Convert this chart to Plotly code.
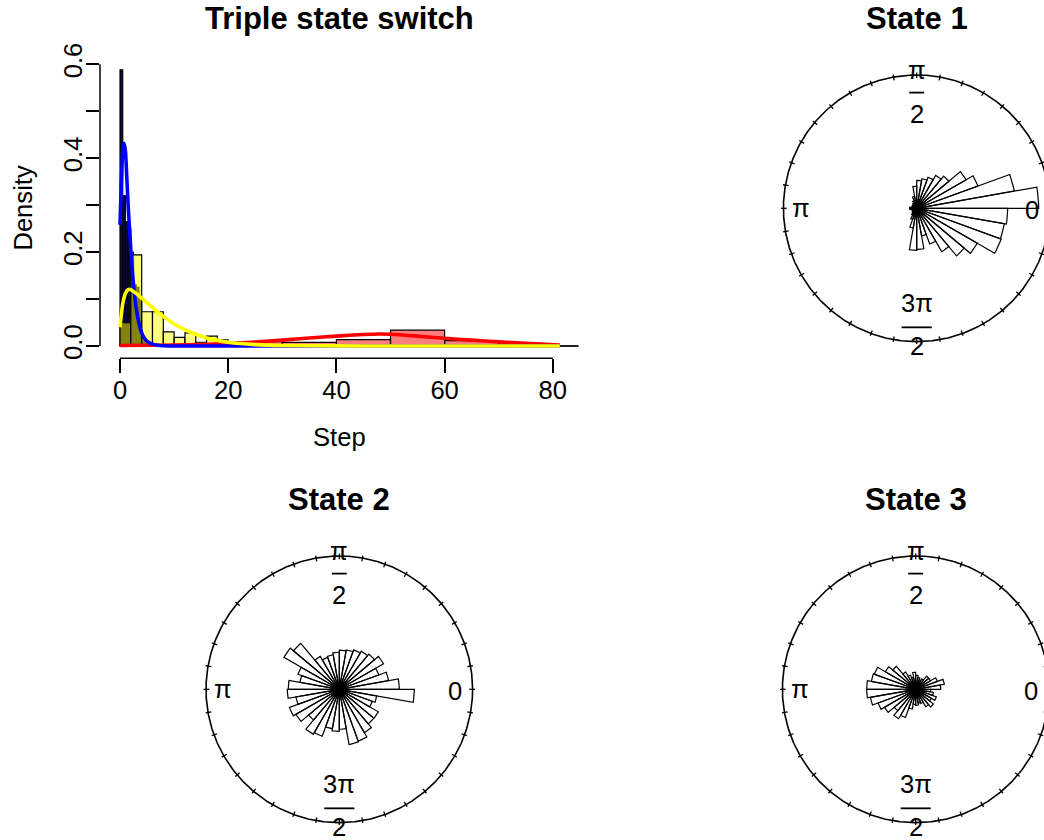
import numpy as np
import plotly.graph_objects as go

W, H = 1044, 840
FONT = "Liberation Sans, Arial, Helvetica, sans-serif"
BASE = 25.6
TITLE = 31

# ---------------- data ----------------
step_ticks = [0, 20, 40, 60, 80]
density_ticks = [0.0, 0.1, 0.2, 0.3, 0.4, 0.5, 0.6]
density_ticktext = ["0.0", "", "0.2", "", "0.4", "", "0.6"]

# histogram (dark, narrow bins)
hist_dark_left = [0.0, 0.5, 1.0, 1.5, 2.0, 2.5, 3.0, 3.5, 4.0, 4.5]
hist_dark_width = 0.5
hist_dark_density = [0.588, 0.32, 0.265, 0.25, 0.2, 0.13, 0.125, 0.1, 0.02, 0.01]

# histogram (yellow)
hist_yellow_left = [0, 2, 4, 6, 8, 10, 12, 14, 16, 18, 20, 22]
hist_yellow_width = 2
hist_yellow_density = [0.05, 0.194, 0.073, 0.073, 0.03, 0.0185, 0.028, 0.008,
                       0.021, 0.013, 0.004, 0.002]

# histogram (red)
hist_red_left = [20, 30, 40, 50, 60, 70, 80]
hist_red_width = 10
hist_red_density = [0.009, 0.0078, 0.0135, 0.034, 0.0113, 0.004, 0.0]

# fitted densities
curve_blue_x = [0, 0.25, 0.5, 0.75, 1.0, 1.25, 1.5, 1.75, 2.0, 2.5, 3.0, 3.5, 4.0,
                4.5, 5.0, 6.0, 7.0, 8.0, 10, 15, 20, 30, 40, 50, 60, 70, 81.3]
curve_blue_y = [0.258, 0.35, 0.415, 0.432, 0.415, 0.36, 0.30, 0.25, 0.205, 0.13, 0.08,
                0.048, 0.028, 0.017, 0.01, 0.004, 0.0015, 0.0005, 0.0001, 0, 0, 0, 0,
                0, 0, 0, 0]

curve_yellow_x = [0, 0.5, 1, 1.5, 2, 3, 4, 5, 6, 7, 8, 10, 12, 14, 16, 18, 20, 25, 30,
                  40, 50, 60, 70, 81.3]
curve_yellow_y = [0.04, 0.09, 0.112, 0.12, 0.12, 0.112, 0.102, 0.092, 0.082, 0.072,
                  0.063, 0.047, 0.035, 0.025, 0.017, 0.012, 0.008, 0.003, 0.001,
                  0.0002, 0, 0, 0, 0]

curve_red_x = [0, 5, 10, 15, 20, 25, 30, 35, 40, 45, 48, 50, 55, 60, 65, 70, 75, 81.3]
curve_red_y = [0.001, 0.0015, 0.002, 0.0032, 0.0055, 0.0085, 0.0125, 0.017, 0.021,
               0.0245, 0.0255, 0.025, 0.021, 0.0165, 0.0125, 0.0088, 0.0055, 0.002]

# rose diagrams: petal radius (fraction of circle radius), 10-degree bins from 0 rad CCW
rose_state1 = [0.915, 0.743, 0.488, 0.428, 0.315, 0.285, 0.248, 0.225, 0.21, 0.165,
               0.09, 0.06, 0.045, 0.0375, 0.0375, 0.0375, 0.03, 0.0525, 0.0525, 0.0375,
               0.03, 0.0375, 0.045, 0.06, 0.09, 0.15, 0.315, 0.308, 0.21, 0.285,
               0.375, 0.465, 0.525, 0.675, 0.668, 0.683]
rose_state2 = [0.45, 0.375, 0.315, 0.383, 0.345, 0.33, 0.315, 0.30, 0.293, 0.278,
               0.263, 0.255, 0.285, 0.45, 0.48, 0.33, 0.30, 0.383, 0.39, 0.33,
               0.398, 0.375, 0.30, 0.39, 0.375, 0.30, 0.315, 0.30, 0.42, 0.413,
               0.375, 0.338, 0.338, 0.263, 0.285, 0.563]
rose_state3 = [0.188, 0.218, 0.173, 0.128, 0.128, 0.09, 0.075, 0.09, 0.105, 0.128,
               0.09, 0.113, 0.15, 0.225, 0.263, 0.33, 0.338, 0.368, 0.368, 0.345,
               0.30, 0.27, 0.21, 0.255, 0.225, 0.15, 0.113, 0.12, 0.105, 0.113,
               0.15, 0.173, 0.135, 0.165, 0.135, 0.113]

titles = ["Triple state switch", "State 1", "State 2", "State 3"]

# ---------------- figure ----------------
fig = go.Figure()

# histogram panel geometry (pixels)
HX0, HX1, HY0, HY1 = 100, 578.4, 57.5, 358.3

# baseline under histograms
all_right = max(hist_red_left) + hist_red_width
fig.add_trace(go.Scatter(x=[0, all_right], y=[0, 0], mode="lines",
                         line=dict(color="black", width=1.5), hoverinfo="skip",
                         showlegend=False))


def add_hist(left, width, dens, fill):
    xs = [l + width / 2 for l in left]
    fig.add_trace(go.Bar(x=xs, y=dens, width=[width] * len(xs),
                         marker=dict(color=fill, line=dict(color="black", width=1.2)),
                         showlegend=False, hoverinfo="skip"))


add_hist(hist_dark_left, hist_dark_width, hist_dark_density, "rgb(12,12,66)")
add_hist(hist_yellow_left, hist_yellow_width, hist_yellow_density, "rgba(255,255,0,0.5)")
add_hist(hist_red_left, hist_red_width, hist_red_density, "rgba(255,0,0,0.5)")

for cx_, cy_, col in [(curve_red_x, curve_red_y, "red"),
                      (curve_blue_x, curve_blue_y, "blue"),
                      (curve_yellow_x, curve_yellow_y, "yellow")]:
    fig.add_trace(go.Scatter(x=cx_, y=cy_, mode="lines", line=dict(color=col, width=3.6,
                             shape="spline", smoothing=0.6),
                             showlegend=False, hoverinfo="skip"))

layout = dict(
    width=W, height=H, autosize=False,
    margin=dict(l=0, r=0, t=0, b=0, pad=0, autoexpand=False),
    paper_bgcolor="white", plot_bgcolor="white", barmode="overlay", showlegend=False,
    font=dict(family=FONT, size=BASE, color="black"),
    xaxis=dict(domain=[HX0 / W, HX1 / W], range=[-3.70, 84.73], showgrid=False,
               zeroline=False, showline=False, ticks="outside", ticklen=14,
               tickwidth=1.5, tickcolor="black", tickvals=step_ticks,
               tickfont=dict(size=BASE, family=FONT), ticklabelstandoff=-5,
               automargin=False),
    yaxis=dict(domain=[1 - HY1 / H, 1 - HY0 / H], range=[-0.0262, 0.6145],
               showgrid=False, zeroline=False, showline=False, ticks="outside",
               ticklen=13, tickwidth=1.5, tickcolor="black", tickvals=density_ticks,
               ticktext=density_ticktext, tickangle=-90,
               tickfont=dict(size=BASE, family=FONT), ticklabelstandoff=-6,
               automargin=False),
)

shapes = [
    dict(type="line", xref="x", yref="paper", x0=step_ticks[0], x1=step_ticks[-1],
         y0=1 - HY1 / H, y1=1 - HY1 / H, line=dict(color="black", width=1.5)),
    dict(type="line", xref="paper", yref="y", x0=HX0 / W, x1=HX0 / W,
         y0=density_ticks[0], y1=density_ticks[-1], line=dict(color="black", width=1.5)),
]
annotations = [
    dict(text="<b>%s</b>" % titles[0], x=(HX0 + HX1) / 2 / W, y=1 - 18.6 / H,
         xref="paper", yref="paper", showarrow=False, xanchor="center", yanchor="middle",
         font=dict(size=TITLE, family=FONT)),
    dict(text="Step", x=(HX0 + HX1) / 2 / W, y=1 - 436.5 / H, xref="paper",
         yref="paper", showarrow=False, xanchor="center", yanchor="middle",
         font=dict(size=BASE, family=FONT)),
    dict(text="Density", x=22.7 / W, y=1 - (HY0 + HY1) / 2 / H, xref="paper",
         yref="paper", showarrow=False, xanchor="center", yanchor="middle",
         textangle=-90, font=dict(size=BASE, family=FONT)),
]

R = 133.3  # circle radius in px


def rose_panel(idx, radii, title, cx, cy, box, title_y):
    xa, ya = "x%d" % idx, "y%d" % idx
    x0, x1, y0, y1 = box
    layout["xaxis%d" % idx] = dict(domain=[x0 / W, x1 / W], automargin=False,
                                   range=[(x0 - cx) / R, (x1 - cx) / R], visible=False)
    layout["yaxis%d" % idx] = dict(domain=[1 - y1 / H, 1 - y0 / H], automargin=False,
                                   range=[(cy - y1) / R, (cy - y0) / R], visible=False)
    n = len(radii)
    bw = 2 * np.pi / n
    px, py = [], []
    for i, r in enumerate(radii):
        th = np.linspace(i * bw, (i + 1) * bw, 6)
        px += [0.0] + list(r * np.cos(th)) + [0.0, None]
        py += [0.0] + list(r * np.sin(th)) + [0.0, None]
    fig.add_trace(go.Scatter(x=px, y=py, xaxis=xa, yaxis=ya, mode="lines",
                             fill="toself", fillcolor="white",
                             line=dict(color="black", width=1.2),
                             showlegend=False, hoverinfo="skip"))
    t = np.linspace(0, 2 * np.pi, 721)
    fig.add_trace(go.Scatter(x=np.cos(t), y=np.sin(t), xaxis=xa, yaxis=ya, mode="lines",
                             line=dict(color="black", width=1.6),
                             showlegend=False, hoverinfo="skip"))
    tx, ty = [], []
    for k in range(36):
        a = np.deg2rad(10 * k)
        tx += [0.975 * np.cos(a), 1.018 * np.cos(a), None]
        ty += [0.975 * np.sin(a), 1.018 * np.sin(a), None]
    fig.add_trace(go.Scatter(x=tx, y=ty, xaxis=xa, yaxis=ya, mode="lines",
                             line=dict(color="black", width=1.3),
                             showlegend=False, hoverinfo="skip"))

    def ann(text, x, y):
        annotations.append(dict(text=text, x=x, y=y, xref=xa, yref=ya, showarrow=False,
                                xanchor="center", yanchor="middle",
                                font=dict(size=BASE, family=FONT)))

    ann("0", 0.865, -0.012)
    ann("π", -0.87, 0.0)
    ann("π", 0.0, 1.035)
    ann("2", 0.0, 0.71)
    ann("3π", 0.0, -0.71)
    ann("2", 0.0, -1.03)
    shapes.append(dict(type="line", xref=xa, yref=ya, x0=-0.056, x1=0.056, y0=0.868,
                       y1=0.868, line=dict(color="black", width=1.8)))
    shapes.append(dict(type="line", xref=xa, yref=ya, x0=-0.113, x1=0.113, y0=-0.893,
                       y1=-0.893, line=dict(color="black", width=1.8)))
    annotations.append(dict(text="<b>%s</b>" % title, x=cx / W, y=1 - title_y / H,
                            xref="paper", yref="paper", showarrow=False,
                            xanchor="center", yanchor="middle",
                            font=dict(size=TITLE, family=FONT)))


rose_panel(2, rose_state1, titles[1], 916.7, 208.3, (770, 1044, 45, 375), 18.6)
rose_panel(3, rose_state2, titles[2], 339.3, 689.3, (190, 490, 526, 840), 499.3)
rose_panel(4, rose_state3, titles[3], 915.7, 689.3, (770, 1044, 526, 840), 499.3)

layout["shapes"] = shapes
layout["annotations"] = annotations
fig.update_layout(**layout)
fig.write_html("out.html")
